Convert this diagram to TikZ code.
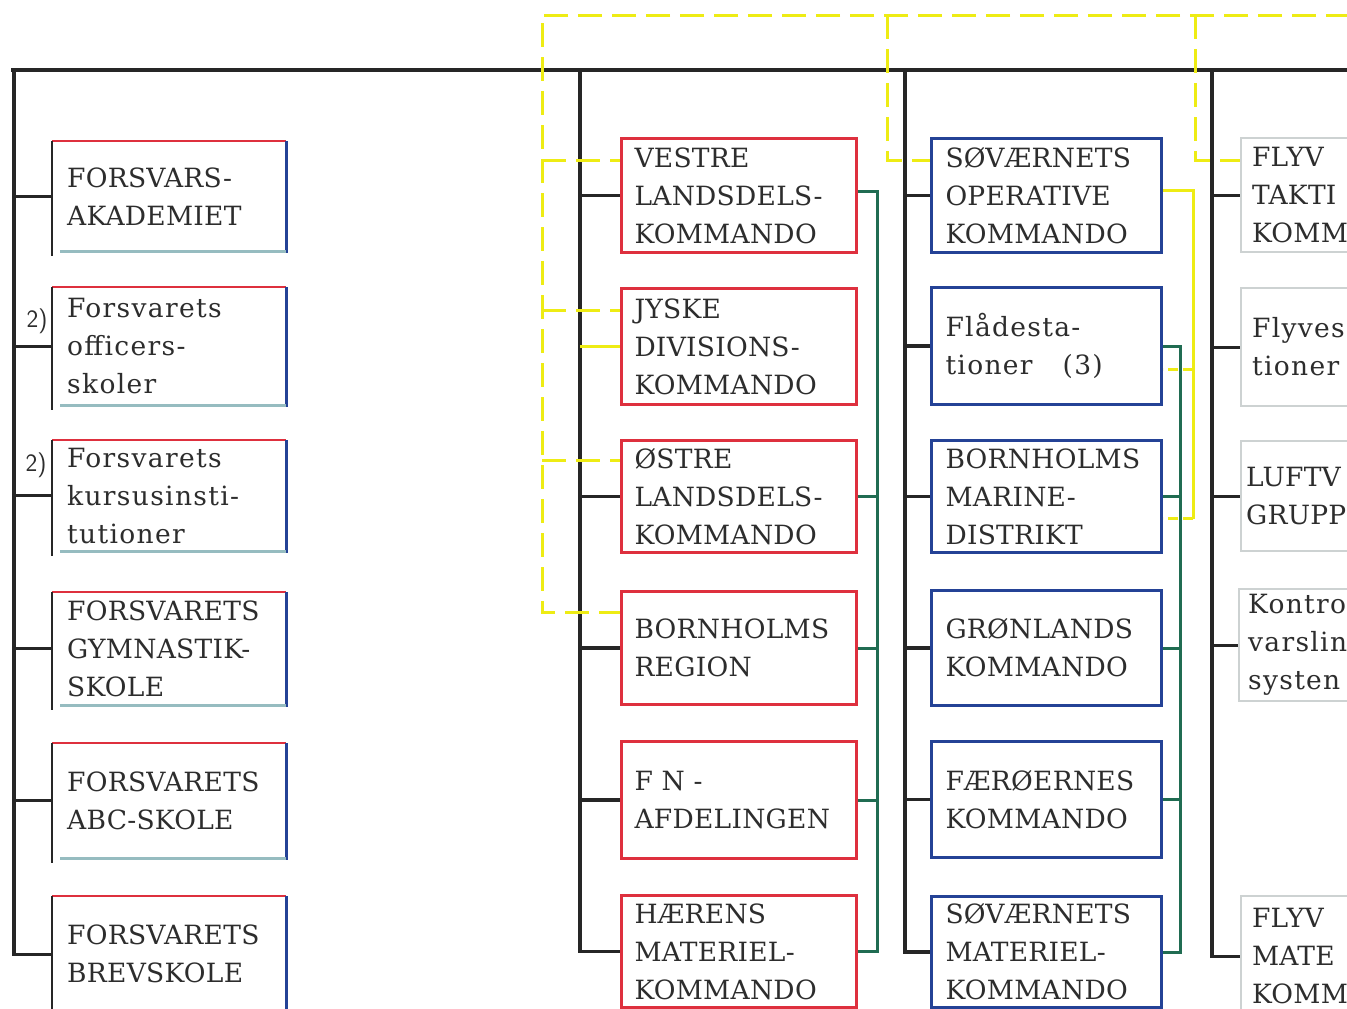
\documentclass[tikz,border=0pt]{standalone}
\usepackage{fontspec}
\setmainfont{DejaVu Serif}
\usetikzlibrary{calc}
\definecolor{cred}{RGB}{222,48,62}
\definecolor{cblue}{RGB}{36,66,150}
\definecolor{cgreen}{RGB}{32,108,82}
\definecolor{cyellow}{RGB}{238,236,20}
\definecolor{cblack}{RGB}{38,38,38}
\definecolor{cgrey}{RGB}{205,210,210}
\definecolor{cteal}{RGB}{150,188,192}
\definecolor{ctext}{RGB}{45,45,45}
\tikzset{
  trunk/.style={draw=cblack, line width=3.1pt},
  grn/.style={draw=cgreen, line width=3pt},
  ydash/.style={draw=cyellow, line width=3pt, dash pattern=on 24pt off 10pt},
  ydashshort/.style={draw=cyellow, line width=3pt, dash pattern=on 10pt off 5pt},
  ysolid/.style={draw=cyellow, line width=3pt},
  boxbase/.style={rectangle, anchor=north west, inner xsep=15pt, inner ysep=0pt,
    align=left, text=ctext,
    font=\fontsize{26.5}{38}\selectfont\addfontfeatures{LetterSpace=1}},
  lbox/.style={boxbase, inner xsep=15pt, text width=204pt, minimum width=234pt},
  mbox/.style={boxbase, draw=cred, line width=3pt, inner xsep=13pt, text width=209pt, minimum width=235pt},
  nbox/.style={boxbase, draw=cblue, line width=3pt, inner xsep=14pt, text width=202pt, minimum width=230pt},
  abox/.style={boxbase, draw=cgrey, line width=2.2pt, inner xsep=11pt, text width=222pt, minimum width=244pt},
  lowcase/.style={font=\fontsize{26.5}{38}\selectfont\addfontfeatures{LetterSpace=5}},
  note/.style={font=\sffamily\fontsize{25}{26}\selectfont, text=ctext, inner sep=0pt},
}
\begin{document}
\begin{tikzpicture}[x=1pt, y=-1pt]
\useasboundingbox (0,0) rectangle (1347,1009);
\fill[white] (0,0) rectangle (1347,1009);
\clip (0,0) rectangle (1347,1009);

% ---------- left column (schools)
\node[lbox, minimum height=110pt] (l1) at (52,141) {FORSVARS-\\AKADEMIET};
\node[lbox, lowcase, minimum height=118pt] (l2) at (52,287) {Forsvarets\\officers-\\skoler};
\node[lbox, lowcase, minimum height=111pt] (l3) at (52,440) {Forsvarets\\kursusinsti-\\tutioner};
\node[lbox, minimum height=113pt] (l4) at (52,592) {FORSVARETS\\GYMNASTIK-\\SKOLE};
\node[lbox, minimum height=115pt] (l5) at (52,743) {FORSVARETS\\ABC-SKOLE};
\node[lbox, minimum height=116pt] (l6) at (52,896) {FORSVARETS\\BREVSKOLE};
\foreach \n in {l1,l2,l3,l4,l5,l6}{
  \draw[cred, line width=2.8pt] (\n.north west) -- (\n.north east);
  \draw[cblue, line width=3.2pt] (\n.north east) -- ($(\n.south east)+(0,2)$);
  \draw[cteal, line width=2.4pt] ($(\n.south west)+(8,0)$) -- (\n.south east);
  \draw[cblack, line width=2pt] (\n.north west) -- ($(\n.south west)+(0,5)$);
}
\node[note] (f1) at (37,321) {2)};
\node[note] (f2) at (36,465) {2)};

% ---------- army column
\node[mbox, minimum height=114pt] (m1) at (620,137) {VESTRE\\LANDSDELS-\\KOMMANDO};
\node[mbox, minimum height=116pt] (m2) at (620,287) {JYSKE\\DIVISIONS-\\KOMMANDO};
\node[mbox, minimum height=112pt] (m3) at (620,439) {ØSTRE\\LANDSDELS-\\KOMMANDO};
\node[mbox, minimum height=113pt] (m4) at (620,590) {BORNHOLMS\\REGION};
\node[mbox, minimum height=117pt] (m5) at (620,740) {F N -\\AFDELINGEN};
\node[mbox, minimum height=112pt] (m6) at (620,894) {HÆRENS\\MATERIEL-\\KOMMANDO};

% ---------- navy column
\node[nbox, minimum height=114pt] (n1) at (930,137) {SØVÆRNETS\\OPERATIVE\\KOMMANDO};
\node[nbox, lowcase, minimum height=117pt] (n2) at (930,286) {Flådesta-\\tioner\hspace{30pt}(3)};
\node[nbox, minimum height=112pt] (n3) at (930,439) {BORNHOLMS\\MARINE-\\DISTRIKT};
\node[nbox, minimum height=115pt] (n4) at (930,589) {GRØNLANDS\\KOMMANDO};
\node[nbox, minimum height=116pt] (n5) at (930,740) {FÆRØERNES\\KOMMANDO};
\node[nbox, minimum height=111pt] (n6) at (930,895) {SØVÆRNETS\\MATERIEL-\\KOMMANDO};

% ---------- air column (cut off at the right edge, as in the reference)
\node[abox, minimum height=114pt] (a1) at (1240,137) {FLYV\\TAKTI\\KOMM};
\node[abox, lowcase, minimum height=118pt] (a2) at (1240,287) {Flyves\\tioner};
\node[abox, inner xsep=5pt, text width=234pt, minimum height=110pt] (a3) at (1240,440) {LUFTV\\GRUPP};
\node[abox, lowcase, inner xsep=9pt, text width=226pt, minimum height=112pt] (a4) at (1238,588) {Kontro\\varslin\\systen};
\node[abox, minimum height=120pt] (a5) at (1240,895) {FLYV\\MATE\\KOMM};

% ---------- black trunk lines
\coordinate (hl) at (11,70);
\coordinate (hr) at (1350,70);
\coordinate (tl) at (14,70);
\coordinate (tm) at (580,70);
\coordinate (tn) at (905,70);
\coordinate (ta) at (1212,70);
\draw[trunk] (hl) -- (hr);
\draw[trunk] (tl) |- (l6.west);
\foreach \n in {l1,l2,l3,l4,l5} \draw[trunk] (tl |- \n.west) -- (\n.west);
\draw[trunk] (tm) |- (m6.west);
\foreach \n in {m1,m3,m4,m5} \draw[trunk] (tm |- \n.west) -- (\n.west);
\draw[trunk] (tn) |- (n6.west);
\foreach \n in {n1,n2,n3,n4,n5} \draw[trunk] (tn |- \n.west) -- (\n.west);
\draw[trunk] (ta) |- (a5.west);
\foreach \n in {a1,a2,a3,a4} \draw[trunk] (ta |- \n.west) -- (\n.west);

% ---------- green lines
\coordinate (gm) at (877,0);
\coordinate (m1e) at ($(m1.east)+(0,-4)$);
\draw[grn] (m1e) -| (gm |- m6.east) -- (m6.east);
\foreach \n in {m3,m4,m5} \draw[grn] (\n.east) -- (gm |- \n.east);
\coordinate (gn) at (1180,0);
\draw[grn] (n2.east) -| (gn |- n6.east) -- (n6.east);
\foreach \n in {n3,n4,n5} \draw[grn] (\n.east) -- (gn |- \n.east);

% ---------- yellow lines
\coordinate (yl) at (542,15);
\coordinate (yr) at (1350,15);
\coordinate (y1) at (887,15);
\coordinate (y2) at (1195,15);
\coordinate (m1y) at ($(m1.north west)+(0,23)$);
\coordinate (m2y) at ($(m2.north west)+(0,23)$);
\coordinate (m3y) at ($(m3.north west)+(0,21)$);
\coordinate (m4y) at ($(m4.north west)+(0,22)$);
\coordinate (n1y) at ($(n1.north west)+(0,23)$);
\coordinate (a1y) at ($(a1.north west)+(0,23)$);
\draw[ydash] (yr) -- (yl) |- (m4y);
\foreach \n in {m1y,m2y,m3y} \draw[ydash] (yl |- \n) -- (\n);
\draw[ydash] (y1) |- (n1y);
\draw[ydash] (y2) |- (a1y);
\draw[ysolid] (tm |- m2.west) -- (m2.west);
\coordinate (yn) at (1193,0);
\coordinate (n1e) at ($(n1.east)+(0,-5)$);
\coordinate (n2y) at ($(n2.east)+(0,23)$);
\coordinate (n3y) at ($(n3.east)+(0,22)$);
\draw[ysolid] (n1e) -| (yn |- n3y);
\draw[ydashshort] (yn |- n2y) -- (n2y);
\draw[ydashshort] (yn |- n3y) -- (n3y);
\end{tikzpicture}
\end{document}
